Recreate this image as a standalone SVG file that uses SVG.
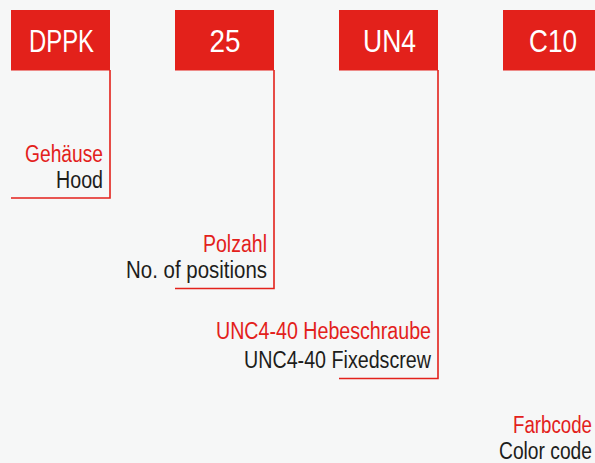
<svg xmlns="http://www.w3.org/2000/svg" width="595" height="463" viewBox="0 0 595 463">
<style>
.box{fill:#e3211b}
.bt{font-family:"Liberation Sans",Arial,sans-serif;font-size:32px;fill:#ffffff;text-anchor:middle}
.de{font-family:"Liberation Sans",Arial,sans-serif;font-size:23.5px;fill:#e3211b;text-anchor:end}
.en{font-family:"Liberation Sans",Arial,sans-serif;font-size:23.5px;fill:#1d1d1b;text-anchor:end}
.ln{fill:none;stroke:#e3211b;stroke-width:1.6}
</style>
<rect x="0" y="0" width="595" height="463" fill="#f6f7f7"/>
<g id="connectors">
<polyline class="ln" points="110,70 110,198 11,198"/>
<polyline class="ln" points="274,70 274,288.5 175,288.5"/>
<polyline class="ln" points="438,70 438,378.5 339,378.5"/>
</g>
<g id="node-dppk">
<rect class="box" x="11" y="10" width="99" height="60.5"/>
<text class="bt" x="61.5" y="52" textLength="65" lengthAdjust="spacingAndGlyphs">DPPK</text>
</g>
<g id="node-25">
<rect class="box" x="175" y="10" width="99" height="60.5"/>
<text class="bt" x="225" y="52" textLength="31" lengthAdjust="spacingAndGlyphs">25</text>
</g>
<g id="node-un4">
<rect class="box" x="339" y="10" width="99" height="60.5"/>
<text class="bt" x="389.5" y="52" textLength="53" lengthAdjust="spacingAndGlyphs">UN4</text>
</g>
<g id="node-c10">
<rect class="box" x="503" y="10" width="92" height="60.5"/>
<text class="bt" x="553" y="52" textLength="48" lengthAdjust="spacingAndGlyphs">C10</text>
</g>
<g id="label-hood">
<text class="de" x="103" y="162" textLength="78" lengthAdjust="spacingAndGlyphs">Gehäuse</text>
<text class="en" x="103" y="188" textLength="47" lengthAdjust="spacingAndGlyphs">Hood</text>
</g>
<g id="label-positions">
<text class="de" x="267" y="252" textLength="64" lengthAdjust="spacingAndGlyphs">Polzahl</text>
<text class="en" x="267" y="278" textLength="141" lengthAdjust="spacingAndGlyphs">No. of positions</text>
</g>
<g id="label-screw">
<text class="de" x="431" y="339" textLength="215" lengthAdjust="spacingAndGlyphs">UNC4-40 Hebeschraube</text>
<text class="en" x="431" y="368" textLength="187" lengthAdjust="spacingAndGlyphs">UNC4-40 Fixedscrew</text>
</g>
<g id="label-color">
<text class="de" x="592" y="433" textLength="79" lengthAdjust="spacingAndGlyphs">Farbcode</text>
<text class="en" x="592" y="459" textLength="93" lengthAdjust="spacingAndGlyphs">Color code</text>
</g>
</svg>
